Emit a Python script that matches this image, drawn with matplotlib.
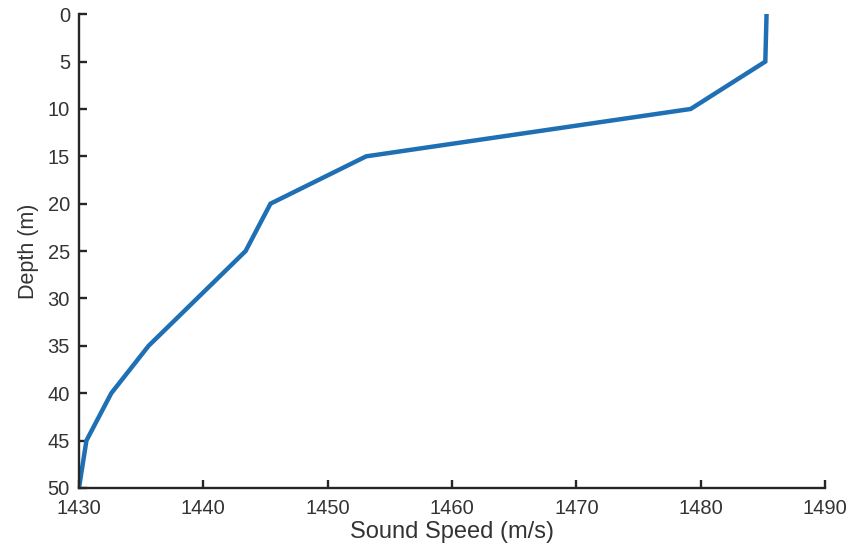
import matplotlib
matplotlib.use("Agg")
import matplotlib.pyplot as plt

depth = [0, 5, 10, 15, 20, 25, 30, 35, 40, 45, 50]
sound_speed = [1485.3, 1485.2, 1479.2, 1453.1, 1445.4, 1443.4, 1439.5, 1435.6, 1432.6, 1430.6, 1430.0]
x_ticks = [1430, 1440, 1450, 1460, 1470, 1480, 1490]
y_ticks = [0, 5, 10, 15, 20, 25, 30, 35, 40, 45, 50]

plt.rcParams['font.family'] = ['Liberation Sans', 'DejaVu Sans']

fig = plt.figure(figsize=(8.52, 5.47), dpi=100)
ax = fig.add_axes([0.0927, 0.108, 0.8756, 0.866])

ax.plot(sound_speed, depth, color='#1f6fb5', linewidth=3.2, solid_joinstyle='miter')

ax.set_xlim(1430, 1490)
ax.set_ylim(50, 0)
ax.set_xticks(x_ticks)
ax.set_yticks(y_ticks)

for side in ('top', 'right'):
    ax.spines[side].set_visible(False)
for side in ('left', 'bottom'):
    ax.spines[side].set_linewidth(1.7)
    ax.spines[side].set_color('#262626')

ax.tick_params(direction='in', length=5.5, width=1.7, colors='#262626',
               labelsize=14.5, labelcolor='#333333')
ax.tick_params(axis='x', pad=8)
ax.tick_params(axis='y', pad=6.5)

ax.set_xlabel('Sound Speed (m/s)', fontsize=17, color='#333333', labelpad=2)
ax.set_ylabel('Depth (m)', fontsize=15.5, color='#333333', labelpad=6)

fig.savefig('out.png', dpi=100)
